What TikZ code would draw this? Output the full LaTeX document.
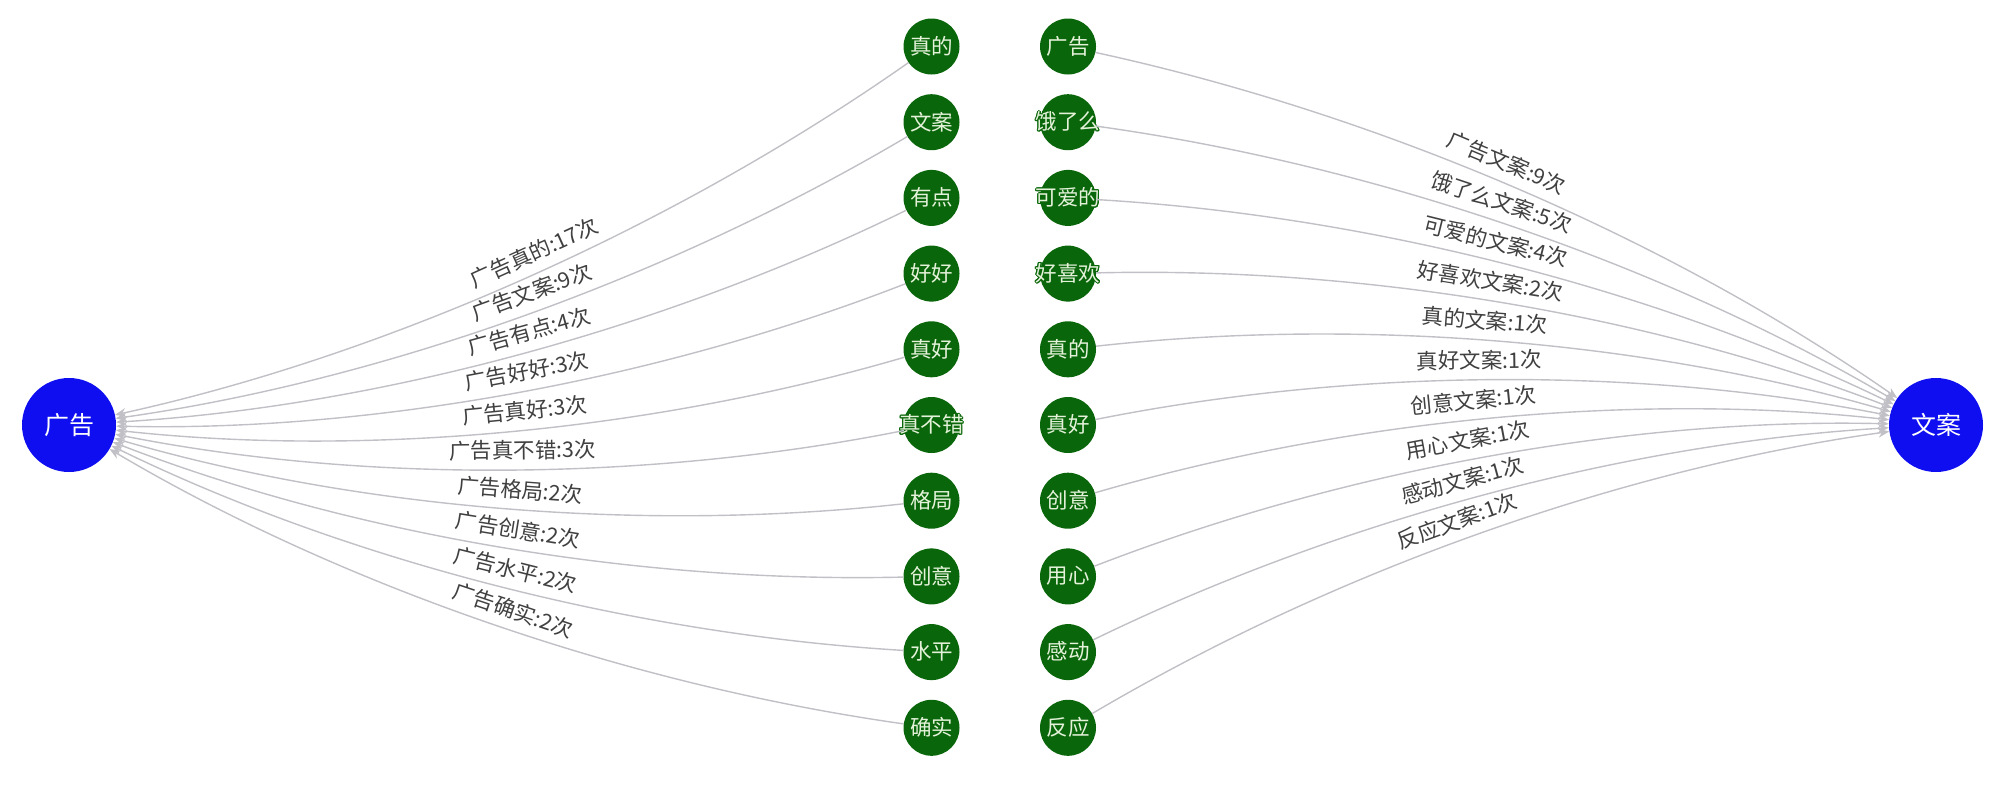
\documentclass[tikz,border=0pt]{standalone}
\usepackage{fontspec}
\usepackage[copies]{contour}
\contourlength{0.9pt}
\newfontfamily\cjk{Noto Sans CJK SC}
\usetikzlibrary{calc,arrows.meta}
\definecolor{nodegreen}{RGB}{10,102,10}
\definecolor{nodeblue}{RGB}{14,14,240}
\definecolor{edgegray}{RGB}{192,192,198}
\definecolor{labelgray}{RGB}{64,64,64}
\definecolor{paletext}{RGB}{228,242,218}
\newcommand\gtext[1]{\makebox[0pt]{\contour{nodegreen}{#1}}}
\begin{document}
\begin{tikzpicture}[x=1pt,y=-1pt,
 big/.style={circle,fill=nodeblue,minimum size=94pt,inner sep=0pt,text=white,font=\cjk\fontsize{25}{25}\selectfont},
 small/.style={circle,fill=nodegreen,minimum size=56pt,inner sep=0pt,text=paletext,font=\cjk\fontsize{21.5}{21.5}\selectfont},
 edge/.style={draw=edgegray,line width=1.4pt,-{Stealth[length=11pt,width=9pt]}},
 elabel/.style={text=labelgray,font=\cjk\fontsize{21.5}{21.5}\selectfont,sloped,inner sep=3pt,above=6pt,pos=0.475}]
\useasboundingbox (0,0) rectangle (2000,788);
\node[big] (L) at (69,425) {广告};
\node[big] (R) at (1936,425) {文案};
\foreach \t [count=\i from 0] in {真的,文案,有点,好好,真好,真不错,格局,创意,水平,确实}
  \node[small] (a\i) at (931.5,{46.5+75.7*\i}) {\gtext{\t}};
\foreach \t [count=\i from 0] in {广告,饿了么,可爱的,好喜欢,真的,真好,创意,用心,感动,反应}
  \node[small] (b\i) at (1068,{46.5+75.7*\i}) {\gtext{\t}};
\foreach \i/\lab in {0/广告真的:17次,1/广告文案:9次,2/广告有点:4次,3/广告好好:3次,4/广告真好:3次,5/广告真不错:3次,6/广告格局:2次,7/广告创意:2次,8/广告水平:2次,9/广告确实:2次}{
  \coordinate (m) at ($(a\i)!0.5!(L)$);
  \coordinate (cp) at ($(m)!0.2!90:(L)$);
  \draw[edge] (a\i) .. controls ($(a\i)!0.6667!(cp)$) and ($(L)!0.6667!(cp)$) .. (L)
    node[elabel] {\lab};
}
\foreach \i/\lab in {0/广告文案:9次,1/饿了么文案:5次,2/可爱的文案:4次,3/好喜欢文案:2次,4/真的文案:1次,5/真好文案:1次,6/创意文案:1次,7/用心文案:1次,8/感动文案:1次,9/反应文案:1次}{
  \coordinate (m) at ($(b\i)!0.5!(R)$);
  \coordinate (cp) at ($(m)!0.2!90:(R)$);
  \draw[edge] (b\i) .. controls ($(b\i)!0.6667!(cp)$) and ($(R)!0.6667!(cp)$) .. (R)
    node[elabel] {\lab};
}
\end{tikzpicture}
\end{document}
